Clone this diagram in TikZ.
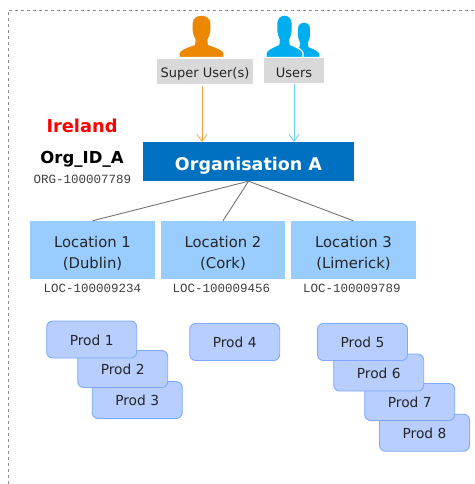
\documentclass[tikz,border=0pt]{standalone}
\usepackage{fontspec}
\setmainfont{DejaVu Sans}
\newfontfamily\idfont{Liberation Mono}
\usetikzlibrary{arrows.meta}
\newcommand{\locstrut}{\rule{0pt}{18pt}}

\begin{document}
\begin{tikzpicture}[x=1pt,y=-1pt,>={Straight Barb[length=7pt,width=10pt]}]

    % styles
    \definecolor{orgblue}{HTML}{0070C0}
    \definecolor{locblue}{HTML}{99CCFF}
    \definecolor{prodfill}{HTML}{B7CEFF}
    \definecolor{prodline}{HTML}{7FA8FF}
    \definecolor{iconorange}{HTML}{EB8700}
    \definecolor{iconblue}{HTML}{00AEEF}
    \tikzstyle{role} = [fill=black!15,inner sep=0pt,text height=13pt,text depth=0pt,text=black!85,font=\fontsize{13}{15}\selectfont]
    \tikzstyle{org} = [fill=orgblue,inner sep=0pt,minimum width=211pt,minimum height=39pt,text height=17pt,text depth=0pt,text=white,font=\fontsize{17.5}{20}\bfseries]
    \tikzstyle{loc} = [fill=locblue,inner sep=0pt,minimum height=58pt,align=center,text=black!85,font=\fontsize{14.8}{21.5}\selectfont]
    \tikzstyle{prod} = [draw=prodline,fill=prodfill,rounded corners=6pt,line width=0.9pt,inner sep=0pt,minimum width=90pt,minimum height=37pt,text height=11pt,text depth=0pt,text=black!85,font=\fontsize{13.8}{16}\selectfont]
    \tikzstyle{idtag} = [inner sep=0pt,text=black!75,font=\fontsize{12.5}{14}\idfont]
    \tikzstyle{link} = [draw=black!55,line width=0.9pt]

    \useasboundingbox (0,0) rectangle (474,484);

    % frame
    \draw[black!45,dashed,line width=0.7pt] (474,10) -- (8.5,10) -- (8.5,484);

    % icons
    \foreach \cx/\top/\sx/\sy/\col in {201.5/15/1/1/iconorange,304/22/0.71/0.835/iconblue,284.5/15/0.82/1/iconblue} {
        \fill[\col,draw=white,line width=1.2pt,shift={(\cx,\top)},xscale=\sx,yscale=\sy]
            (-22.5,42.5) -- (-22.5,38) .. controls (-22,35) and (-17,33) .. (-7,29.5)
            -- (-6.5,25) .. controls (-8,22) and (-9.5,19) .. (-9.5,16)
            -- (-9.5,8) .. controls (-9.5,3) and (-5,0) .. (0,0)
            .. controls (5,0) and (9.5,3) .. (9.5,8)
            -- (9.5,16) .. controls (9.5,19) and (8,22) .. (6.5,25)
            -- (7,29.5) .. controls (17,33) and (22,35) .. (22.5,38) -- (22.5,42.5) -- cycle;
    }

    % users
    \node[role,minimum width=96pt,minimum height=25.5pt] (super) at (205,71.5) {Super User(s)};
    \node[role,minimum width=60pt,minimum height=25pt] (users) at (294,71) {Users};

    % organisation
    \node[org] (orga) at (248.5,161.5) {Organisation A};
    \node[text=red,inner sep=0pt,font=\fontsize{17.8}{20}\bfseries] (country) at (82,126) {Ireland};
    \node[text=black,inner sep=0pt,text height=12pt,text depth=0pt,font=\fontsize{16.5}{18}\bfseries] (orgname) at (82,157.5) {Org\_ID\_A};
    \node[idtag] (orgid) at (82.5,179.5) {ORG-100007789};

    % locations
    \node[loc,minimum width=125pt] (loc1) at (92.5,250) {\locstrut Location 1\\(Dublin)};
    \node[loc,minimum width=124pt] (loc2) at (223,250) {\locstrut Location 2\\(Cork)};
    \node[loc,minimum width=125pt] (loc3) at (353.5,250) {\locstrut Location 3\\(Limerick)};
    \node[idtag] (locid1) at (92.5,288) {LOC-100009234};
    \node[idtag] (locid2) at (221.5,288) {LOC-100009456};
    \node[idtag] (locid3) at (352,288) {LOC-100009789};

    % products
    \node[prod] (prod3) at (137.2,400) {Prod 3};
    \node[prod] (prod2) at (122.7,369) {Prod 2};
    \node[prod] (prod1) at (91.7,339.5) {Prod 1};
    \node[prod] (prod4) at (234.7,342) {Prod 4};
    \node[prod] (prod8) at (424.5,432.7) {Prod 8};
    \node[prod] (prod7) at (409.7,402) {Prod 7};
    \node[prod] (prod6) at (378.7,372.5) {Prod 6};
    \node[prod] (prod5) at (362.5,342) {Prod 5};

    % connectors
    \coordinate (superin) at (202,142);
    \coordinate (usersin) at (294,142);
    \draw[->,iconorange!75,line width=0.8pt] (super.south -| superin) ++(0,2) -- (superin);
    \draw[->,iconblue!60,line width=0.8pt] (users.south) -- (usersin);
    \path[link] (orga.south) -- (loc1.north);
    \path[link] (orga.south) -- (loc2.north);
    \path[link] (orga.south) -- (loc3.north);
\end{tikzpicture}
\end{document}
